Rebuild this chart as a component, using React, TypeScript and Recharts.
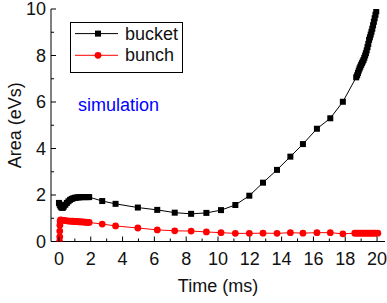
import React from "react";
import { ComposedChart, Line, XAxis, YAxis, Legend, Label } from "recharts";

// bucket area vs time (ms)
const bucketTime = [
  0, 0.05, 0.1, 0.15, 0.2, 0.25, 0.3, 0.4, 0.5, 0.6, 0.7, 0.8, 0.9, 1.0, 1.1, 1.2, 1.3, 1.4, 1.5, 1.6, 1.7, 1.8, 1.9,
  2.72, 3.56, 4.96, 6.18, 7.28, 8.31, 9.27, 10.19, 11.09, 11.97, 12.83, 13.71, 14.55, 15.34, 16.22, 17.06, 17.85,
  18.69, 18.75, 18.8, 18.85, 18.9, 18.95, 19.0, 19.05, 19.1, 19.15, 19.2, 19.25, 19.3, 19.35, 19.4, 19.45,
  19.5, 19.55, 19.6, 19.65, 19.7, 19.75, 19.8, 19.85, 19.9, 19.95,
];
const bucketArea = [
  1.66, 1.58, 1.51, 1.47, 1.45, 1.46, 1.5, 1.58, 1.66, 1.73, 1.79, 1.83, 1.86, 1.88, 1.89, 1.9, 1.9, 1.91, 1.91, 1.91, 1.91, 1.91, 1.91,
  1.74, 1.62, 1.46, 1.36, 1.24, 1.19, 1.23, 1.35, 1.57, 1.97, 2.53, 3.08, 3.65, 4.19, 4.85, 5.3, 6.01,
  7.06, 7.15, 7.25, 7.35, 7.44, 7.52, 7.6, 7.67, 7.74, 7.81, 7.9, 8.0, 8.1, 8.22, 8.36, 8.5,
  8.67, 8.78, 8.9, 9.02, 9.15, 9.3, 9.45, 9.6, 9.75, 9.9,
];

// bunch area vs time (ms)
const bunchTime = [
  0.04, 0.05, 0.05, 0.06, 0.07, 0.1, 0.2, 0.3, 0.4, 0.5, 0.6, 0.7, 0.8, 0.9, 1.0, 1.1, 1.2, 1.3, 1.4, 1.5, 1.6, 1.7, 1.8, 1.9,
  2.72, 3.56, 4.96, 6.18, 7.28, 8.31, 9.27, 10.19, 11.09, 11.97, 12.83, 13.71, 14.55, 15.34, 16.22, 17.06, 17.85,
  18.6, 18.7, 18.8, 18.9, 19.0, 19.1, 19.2, 19.3, 19.4, 19.5, 19.6, 19.7, 19.8, 19.9, 20.05,
];
const bunchArea = [
  0.0, 0.2, 0.45, 0.7, 0.88, 0.93, 0.92, 0.91, 0.9, 0.89, 0.88, 0.88, 0.87, 0.87, 0.86, 0.86, 0.85, 0.85, 0.84, 0.84, 0.83, 0.83, 0.82, 0.82,
  0.75, 0.67, 0.58, 0.5, 0.46, 0.45, 0.41, 0.38, 0.35, 0.35, 0.36, 0.35, 0.38, 0.36, 0.38, 0.38, 0.33,
  0.36, 0.36, 0.36, 0.36, 0.36, 0.36, 0.36, 0.36, 0.36, 0.36, 0.36, 0.36, 0.36, 0.36, 0.36,
];

const xTicks = [0, 1, 2, 3, 4, 5, 6, 7, 8, 9, 10, 11, 12, 13, 14, 15, 16, 17, 18, 19, 20];
const yTicks = [0, 1, 2, 3, 4, 5, 6, 7, 8, 9, 10];

const bucketData = bucketTime.map((t, i) => ({ t, area: bucketArea[i] }));
const bunchData = bunchTime.map((t, i) => ({ t, area: bunchArea[i] }));

const FONT = "Arial, 'Liberation Sans', sans-serif";
const TEXT = "#111";

function BottomTick({ x, y, payload }: any) {
  const major = payload.value % 2 === 0;
  return (
    <g>
      <line x1={x} x2={x} y1={y} y2={y - (major ? 5 : 3)} stroke="#000" />
      {major && (
        <text x={x} y={y + 17} textAnchor="middle" dominantBaseline="central" fontSize={18} fill={TEXT} fontFamily={FONT}>
          {payload.value}
        </text>
      )}
    </g>
  );
}

function TopTick({ x, y, payload }: any) {
  const major = payload.value % 2 === 0;
  return <line x1={x} x2={x} y1={y} y2={y + (major ? 5 : 3)} stroke="#000" />;
}

function LeftTick({ x, y, payload }: any) {
  const major = payload.value % 2 === 0;
  return (
    <g>
      <line x1={x} x2={x + (major ? 5 : 3)} y1={y} y2={y} stroke="#000" />
      {major && (
        <text x={x - 5} y={y} textAnchor="end" dominantBaseline="central" fontSize={18} fill={TEXT} fontFamily={FONT}>
          {payload.value}
        </text>
      )}
    </g>
  );
}

function RightTick({ x, y, payload }: any) {
  const major = payload.value % 2 === 0;
  return <line x1={x} x2={x - (major ? 5 : 3)} y1={y} y2={y} stroke="#000" />;
}

function SquareDot({ cx, cy, index }: any) {
  return <rect key={`s-${index}`} x={cx - 3} y={cy - 3} width={6} height={6} fill="#000" />;
}

function CircleDot({ cx, cy, index }: any) {
  return <circle key={`c-${index}`} cx={cx} cy={cy} r={3.4} fill="#ff0000" />;
}

function LegendBox() {
  return (
    <div style={{ width: 111, height: 49, border: "1px solid #000", background: "#fff" }}>
      <svg width={111} height={49} style={{ display: "block" }}>
        <line x1={4} x2={47} y1={10.6} y2={10.6} stroke="#000" />
        <rect x={24} y={7.6} width={6} height={6} fill="#000" />
        <text x={54} y={10.6} dominantBaseline="central" fontSize={18} fill={TEXT} fontFamily={FONT}>
          bucket
        </text>
        <line x1={4} x2={47} y1={32.3} y2={32.3} stroke="#ff0000" />
        <circle cx={27} cy={32.3} r={3.4} fill="#ff0000" />
        <text x={54} y={32.3} dominantBaseline="central" fontSize={18} fill={TEXT} fontFamily={FONT}>
          bunch
        </text>
      </svg>
    </div>
  );
}

export default function App() {
  return (
    <div style={{ position: "absolute", left: 0, top: 0, width: 387, height: 303, background: "#fff", fontFamily: FONT }}>
      <ComposedChart width={387} height={303} margin={{ top: 9, right: 2, bottom: 0, left: 0 }}>
        <XAxis
          xAxisId="b"
          type="number"
          dataKey="t"
          domain={[-0.5, 20.5]}
          ticks={xTicks}
          interval={0}
          allowDataOverflow
          height={61.5}
          tickSize={0}
          tickMargin={0}
          tickLine={false}
          axisLine={{ stroke: "#000" }}
          tick={<BottomTick />}
        >
          <Label value="Time (ms)" position="insideBottom" offset={11.5} fontSize={18} fill={TEXT} fontFamily={FONT} />
        </XAxis>
        <XAxis
          xAxisId="top"
          orientation="top"
          type="number"
          dataKey="t"
          domain={[-0.5, 20.5]}
          ticks={xTicks}
          interval={0}
          allowDataOverflow
          height={0}
          tickSize={0}
          tickMargin={0}
          tickLine={false}
          axisLine={{ stroke: "#000" }}
          tick={<TopTick />}
        />
        <YAxis
          yAxisId="l"
          type="number"
          domain={[0, 10]}
          ticks={yTicks}
          interval={0}
          allowDataOverflow
          width={51}
          tickSize={0}
          tickMargin={0}
          tickLine={false}
          axisLine={{ stroke: "#000" }}
          tick={<LeftTick />}
        >
          <Label
            value="Area (eVs)"
            angle={-90}
            position="insideLeft"
            offset={15}
            fontSize={18}
            fill={TEXT}
            fontFamily={FONT}
            style={{ textAnchor: "middle" }}
          />
        </YAxis>
        <YAxis
          yAxisId="r"
          orientation="right"
          type="number"
          domain={[0, 10]}
          ticks={yTicks}
          interval={0}
          allowDataOverflow
          width={0}
          tickSize={0}
          tickMargin={0}
          tickLine={false}
          axisLine={{ stroke: "#000" }}
          tick={<RightTick />}
        />
        <Legend
          layout="vertical"
          align="center"
          verticalAlign="middle"
          wrapperStyle={{ left: 70, top: 21.5, width: 113, height: 51 }}
          content={() => <LegendBox />}
        />
        <Line
          xAxisId="b"
          yAxisId="l"
          data={bucketData}
          dataKey="area"
          name="bucket"
          type="linear"
          stroke="#000"
          strokeWidth={1}
          dot={SquareDot}
          activeDot={false}
          isAnimationActive={false}
        />
        <Line
          xAxisId="b"
          yAxisId="l"
          data={bunchData}
          dataKey="area"
          name="bunch"
          type="linear"
          stroke="#ff0000"
          strokeWidth={1}
          dot={CircleDot}
          activeDot={false}
          isAnimationActive={false}
        />
      </ComposedChart>
      <svg width={387} height={303} style={{ position: "absolute", left: 0, top: 0, pointerEvents: "none" }}>
        <text x={78} y={105} dominantBaseline="central" fontSize={18} fill="#0000ff" fontFamily={FONT}>
          simulation
        </text>
      </svg>
    </div>
  );
}
